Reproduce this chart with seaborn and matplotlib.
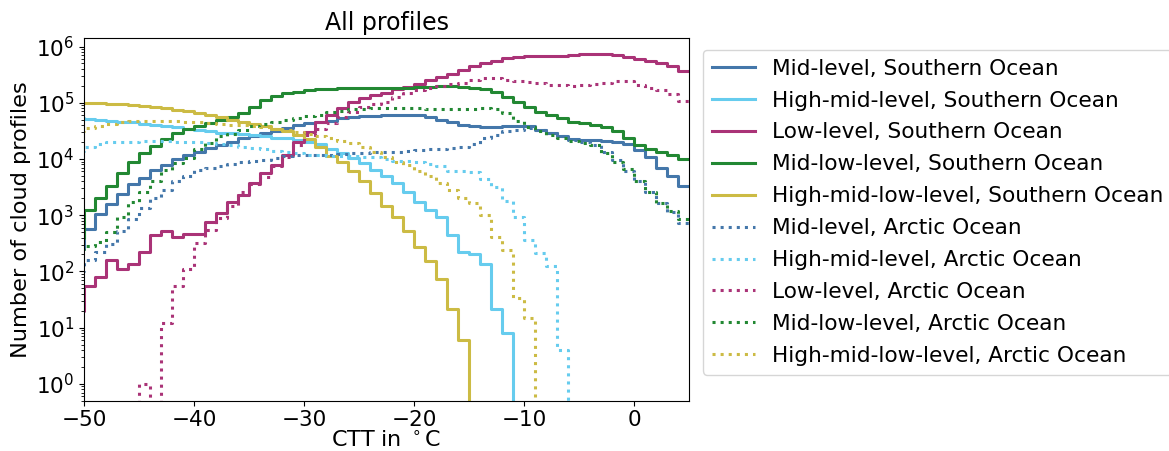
import numpy as np
import pandas as pd
import matplotlib
matplotlib.use("Agg")
from matplotlib import pyplot as plt
import seaborn as sns

# 1 K bins, one extra bin left of the shown range (-50 .. 5)
edges = list(range(-51, 6))
centers = [e + 0.5 for e in edges[:-1]]

cloud_types = ["Mid-level", "High-mid-level", "Low-level",
               "Mid-low-level", "High-mid-low-level"]
colors = ["#4477AA", "#66CCEE", "#AA3377", "#228833", "#CCBB44"]
regions = ["Southern Ocean", "Arctic Ocean"]

# counts per bin, -51 .. 4 degC
so_mid = [250, 575, 1050, 1580, 2340, 3550, 4570, 6460, 7940, 10000,
          12000, 13500, 15500, 17800, 20400, 23400, 25100, 28800, 30900, 35500,
          39800, 43700, 45700, 47900, 52500, 55000, 57500, 58900, 60300, 61700,
          61700, 60300, 55000, 49000, 44700, 39800, 38000, 36300, 36300, 38000,
          38900, 38000, 33100, 28800, 25100, 22400, 21900, 21400, 20900, 20000,
          18200, 14500, 11000, 6900, 4900, 3240]
so_highmid = [52500, 51300, 50100, 47900, 45700, 44700, 42700, 40700, 38000, 36300,
              33900, 32400, 30900, 29500, 28800, 28200, 26900, 25700, 24000, 23400,
              21900, 20000, 18200, 14800, 12600, 10200, 8320, 6460, 4900, 3720,
              2630, 1740, 1260, 912, 447, 219, 200, 135, 21, 8,
              0, 0, 0, 0, 0, 0, 0, 0, 0, 0,
              0, 0, 0, 0, 0, 0]
so_low = [20, 54, 79, 158, 110, 135, 219, 447, 513, 417,
          468, 468, 759, 1100, 1700, 2290, 3800, 5620, 7940, 11700,
          20000, 30200, 45700, 61700, 81300, 105000, 123000, 135000, 151000, 174000,
          191000, 219000, 251000, 288000, 331000, 380000, 447000, 501000, 550000, 617000,
          661000, 692000, 692000, 692000, 692000, 708000, 724000, 724000, 724000, 708000,
          661000, 603000, 550000, 501000, 447000, 372000]
so_midlow = [398, 1230, 2040, 3310, 5620, 8710, 12600, 17000, 22900, 28800,
             33900, 38000, 43700, 50100, 56200, 64600, 85100, 112000, 132000, 148000,
             158000, 166000, 174000, 178000, 182000, 182000, 182000, 186000, 186000, 186000,
             186000, 191000, 191000, 195000, 195000, 191000, 186000, 174000, 158000, 129000,
             105000, 85100, 69200, 60300, 52500, 45700, 43700, 39800, 36300, 30900,
             23400, 17800, 14800, 13500, 11700, 10000]
so_highmidlow = [100000, 97700, 97700, 95500, 93300, 91200, 87100, 83200, 79400, 74100,
                 70800, 66100, 61700, 56200, 50100, 45700, 41700, 38000, 33900, 31600,
                 26900, 22400, 16600, 11500, 8710, 6030, 3980, 2450, 1480, 933,
                 513, 275, 155, 72, 21, 6, 0, 0, 0, 0,
                 0, 0, 0, 0, 0, 0, 0, 0, 0, 0,
                 0, 0, 0, 0, 0, 0]

ao_mid = [100, 158, 224, 309, 513, 851, 1320, 2000, 2820, 3980,
          5010, 6460, 6920, 7590, 8130, 8710, 9330, 9550, 10200, 11200,
          11700, 12000, 12000, 12000, 12300, 12900, 12900, 13200, 13200, 13500,
          14100, 14500, 14800, 14800, 15500, 16600, 18200, 23400, 26900, 30900,
          33100, 35500, 33100, 28800, 25100, 21900, 20400, 17800, 13500, 9550,
          6030, 3980, 2630, 1620, 1150, 724]
ao_highmid = [14100, 16200, 18200, 20000, 20400, 20400, 20900, 20900, 20900, 20400,
              20000, 20000, 19100, 18200, 17400, 16600, 15800, 14800, 14100, 13500,
              12900, 12000, 11700, 11500, 11500, 11200, 11000, 10700, 10000, 9120,
              9120, 8710, 8130, 7590, 6170, 6030, 5750, 4370, 3160, 1780,
              912, 355, 209, 126, 4, 0, 0, 0, 0, 0,
              0, 0, 0, 0, 0, 0]
ao_low = [0, 0, 0, 0, 0, 0, 1, 0, 12, 55,
          112, 316, 537, 891, 1480, 2630, 3550, 4790, 7590, 11000,
          17800, 26300, 34700, 43700, 56200, 69200, 85100, 95500, 105000, 126000,
          148000, 170000, 186000, 195000, 219000, 229000, 251000, 275000, 275000, 257000,
          240000, 234000, 224000, 209000, 204000, 195000, 204000, 214000, 229000, 240000,
          245000, 209000, 186000, 170000, 141000, 107000]
ao_midlow = [251, 288, 331, 501, 933, 1700, 2630, 3980, 6310, 8320,
             10500, 15100, 19100, 25100, 28200, 33100, 38000, 42700, 45700, 50100,
             53700, 57500, 61700, 67600, 72400, 75900, 77600, 79400, 79400, 79400,
             79400, 79400, 77600, 75900, 75900, 75900, 77600, 79400, 77600, 64600,
             46800, 36300, 31600, 26900, 23400, 20900, 19100, 17400, 12600, 8910,
             6760, 3980, 2630, 1660, 1200, 871]
ao_highmidlow = [31600, 35500, 38000, 41700, 44700, 46800, 47900, 47900, 47900, 46800,
                 45700, 44700, 43700, 42700, 40700, 39800, 38000, 36300, 34700, 32400,
                 30200, 27500, 25100, 23400, 20900, 19100, 16600, 13500, 11000, 8910,
                 7760, 6170, 4900, 3720, 2820, 2000, 1620, 1000, 417, 240,
                 33, 15, 0, 0, 0, 0, 0, 0, 0, 0,
                 0, 0, 0, 0, 0, 0]

series = {
    "Southern Ocean": [so_mid, so_highmid, so_low, so_midlow, so_highmidlow],
    "Arctic Ocean": [ao_mid, ao_highmid, ao_low, ao_midlow, ao_highmidlow],
}

# long table for seaborn
rows = []
for region in regions:
    for ctype, counts in zip(cloud_types, series[region]):
        for c, n in zip(centers, counts):
            rows.append({"region": region, "type": ctype, "ctt": c, "count": n})
df = pd.DataFrame(rows)

fig = plt.figure(figsize=(11.69, 4.51), dpi=100)
ax = fig.add_axes([0.0719, 0.1115, 0.5175, 0.8035])

linestyles = {"Southern Ocean": "-", "Arctic Ocean": ":"}
for region in regions:
    for ctype, col in zip(cloud_types, colors):
        sub = df[(df["region"] == region) & (df["type"] == ctype)]
        sns.histplot(data=sub, x="ctt", weights="count", bins=edges,
                     element="step", fill=False, color=col,
                     linestyle=linestyles[region], linewidth=2.2,
                     label=ctype + ", " + region, ax=ax)

ax.set_yscale("log")
ax.set_xlim(-50, 5)
ax.set_ylim(0.5, 1.4e6)
ax.set_title("All profiles", fontsize=17)
ax.set_xlabel(r"CTT in $^\circ$C", fontsize=16, labelpad=0)
ax.set_ylabel("Number of cloud profiles", fontsize=16.2)
ax.tick_params(axis="both", which="major", labelsize=15.5)
ax.legend(loc="center left", bbox_to_anchor=(1.023, 0.52), borderaxespad=0,
          fontsize=15.6, labelspacing=0.55)

fig.savefig("out.png", dpi=100)
